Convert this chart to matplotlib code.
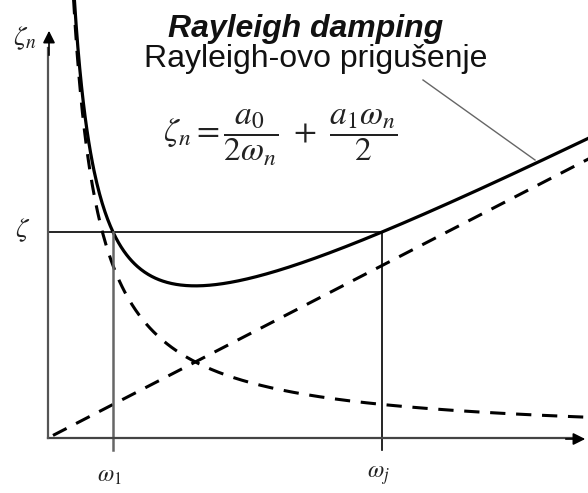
import matplotlib.pyplot as plt
import numpy as np

# Rayleigh damping: zeta_n = a0/(2 w) + a1 w / 2
w1 = 65.0      # omega_1
wj = 334.0     # omega_j
zeta = 206.0   # target damping level

a0 = 2 * zeta * w1 * wj / (w1 + wj)
a1 = 2 * zeta / (w1 + wj)

w = np.linspace(20, 560, 600)
mass_part = a0 / (2 * w)
stiff_part = a1 * w / 2
total = mass_part + stiff_part

fig = plt.figure(figsize=(5.88, 4.93), dpi=100)
ax = fig.add_axes([0, 0, 1, 1])
ax.set_xlim(-48, 540)
ax.set_ylim(-55, 438)
ax.axis('off')

# curves
ax.plot(w, total, color='black', lw=2.3, solid_capstyle='butt')
ax.plot(w, mass_part, color='black', lw=2.2, dashes=(5, 3.5))
w_lin = np.linspace(5, 560, 100)
ax.plot(w_lin, a1 * w_lin / 2, color='black', lw=2.2, dashes=(5, 3.5))

# helper lines
ax.plot([0, wj], [zeta, zeta], color='black', lw=1.2)
ax.plot([w1, w1], [-12, zeta], color='#666666', lw=1.8)
ax.plot([wj, wj], [-12, zeta], color='black', lw=1.2)

# axes with arrows
ax.plot([0, 530], [0, 0], color='#444444', lw=1.6)
ax.plot([0, 0], [0, 390], color='#555555', lw=1.6)
ax.annotate('', xy=(540, -1), xytext=(515, -1),
            arrowprops=dict(arrowstyle='-|>', color='black', lw=1.2, mutation_scale=18))
ax.annotate('', xy=(1, 410), xytext=(1, 380),
            arrowprops=dict(arrowstyle='-|>', color='black', lw=1.2, mutation_scale=18))

# labels
ax.text(-23, 400, r'$\zeta_n$', fontsize=20, ha='center', va='center',
        math_fontfamily='stix', color='#222222')
ax.text(-25, zeta + 2, r'$\zeta$', fontsize=20, ha='center', va='center',
        math_fontfamily='stix', color='#222222')
ax.text(w1 - 4, -37, r'$\omega_1$', fontsize=17, ha='center', va='center',
        math_fontfamily='stix', color='#222222')
ax.text(wj - 4, -37, r'$\omega_j$', fontsize=17, ha='center', va='center',
        math_fontfamily='stix', color='#222222')

ax.text(258, 401, 'Rayleigh damping', fontsize=23, fontweight='bold', fontstyle='italic',
        family='Liberation Sans', ha='center', va='baseline', color='#111111')
ax.text(268, 371, 'Rayleigh-ovo prigušenje', fontsize=23, family='Liberation Sans',
        ha='center', va='baseline', color='#111111')
ax.text(232, 300, r'$\zeta_n = \dfrac{a_0}{2\omega_n}\ +\ \dfrac{a_1\omega_n}{2}$', fontsize=24,
        ha='center', va='center', math_fontfamily='stix', color='#222222')

# pointer to curve
ax.plot([375, 487], [358, 278], color='#666666', lw=1.0)

fig.savefig('out.png', dpi=100)
